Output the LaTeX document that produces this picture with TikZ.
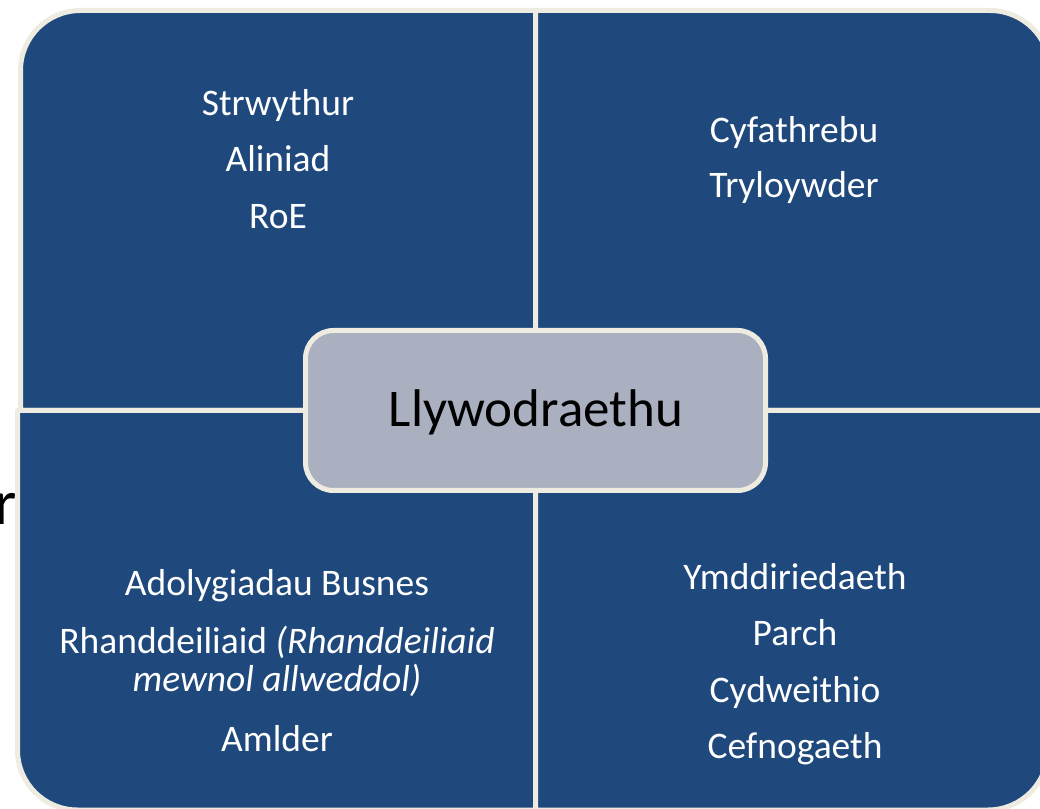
\documentclass[tikz,border=0pt]{standalone}
\usepackage{fontspec}
\setmainfont{Carlito}
\definecolor{qblue}{HTML}{1F497D}
\definecolor{cream}{HTML}{EEECE1}
\definecolor{cgrey}{HTML}{AAB0BF}
\begin{document}
\begin{tikzpicture}[x=1pt,y=1pt,
  quad/.style={fill=qblue,draw=cream,line width=5pt,line join=round},
  qtext/.style={text=white,font=\fontsize{37.5}{44}\selectfont,anchor=base,inner sep=0pt},
  centerbox/.style={draw=cream,line width=5pt,fill=cgrey,rounded corners=28pt,
    minimum width=460pt,minimum height=160pt,inner sep=0pt}]
\useasboundingbox (0,0) rectangle (1040,808);
\clip (0,0) rectangle (1040,808);
\fill[white] (0,0) rectangle (1040,808);
% stray letter behind the diagram
\node[anchor=base west,inner sep=0pt,font=\fontsize{64}{70}\selectfont] (rr) at (-6,283) {r};
% quadrants
\draw[quad] (535.5,397.5) -- (20.5,397.5) -- (20.5,737.5)
  arc[start angle=180,end angle=90,radius=60pt] -- (535.5,797.5) -- cycle;
\draw[quad] (535.5,397.5) -- (535.5,797.5) -- (990,797.5)
  arc[start angle=90,end angle=0,radius=60pt] -- (1050,397.5) -- cycle;
\draw[quad] (535.5,397.5) -- (17.5,397.5) -- (17.5,58)
  arc[start angle=180,end angle=270,radius=60pt] -- (535.5,-2) -- cycle;
\draw[quad] (535.5,397.5) -- (1048,397.5) -- (1048,58)
  arc[start angle=0,end angle=-90,radius=60pt] -- (535.5,-2) -- cycle;
% top-left text
\node[qtext] (tl1) at (278,692) {Strwythur};
\node[qtext] (tl2) at (278,636) {Aliniad};
\node[qtext] (tl3) at (278,579) {RoE};
% top-right text
\node[qtext] (tr1) at (794,665) {Cyfathrebu};
\node[qtext] (tr2) at (794,610) {Tryloywder};
% bottom-left text
\node[qtext] (bl1) at (277,212) {Adolygiadau Busnes};
\node[qtext] (bl2) at (277,154) {Rhanddeiliaid \textit{(Rhanddeiliaid}};
\node[qtext] (bl3) at (277,117) {\textit{mewnol allweddol)}};
\node[qtext] (bl4) at (277,57) {Amlder};
% bottom-right text
\node[qtext] (br1) at (795,218) {Ymddiriedaeth};
\node[qtext] (br2) at (795,162) {Parch};
\node[qtext] (br3) at (795,106) {Cydweithio};
\node[qtext] (br4) at (795,50) {Cefnogaeth};
% centre
\node[centerbox] (c) at (535.5,397.5) {};
\node[anchor=base,inner sep=0pt,font=\fontsize{53}{60}\selectfont] (ct) at (536,381) {Llywodraethu};
\end{tikzpicture}
\end{document}
